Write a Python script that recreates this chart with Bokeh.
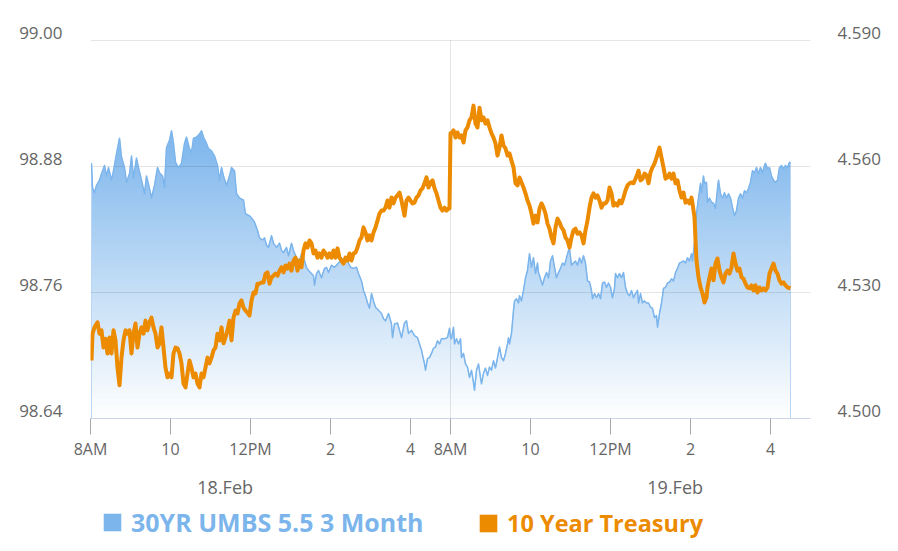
import numpy as np
from bokeh.plotting import figure
from bokeh.layouts import column
from bokeh.models import (Range1d, LinearAxis, FixedTicker, NumeralTickFormatter,
                          Legend, LegendItem)
from bokeh.embed import file_html
from bokeh.resources import INLINE

# ---------------- data ----------------
# time = minutes after 8:00 AM on 18.Feb along the session axis (overnight gap removed;
# 540 = 8:00 AM on 19.Feb)
umbs_points = [
    (1.5, 98.883), (3, 98.860), (6, 98.855), (9, 98.862), (13.5, 98.867), (16.5, 98.873), (21, 98.881),
    (24, 98.871), (27, 98.879), (31.5, 98.867), (34.5, 98.876), (39, 98.892), (43.5, 98.907), (46.5, 98.889),
    (51, 98.879), (54, 98.865), (58.5, 98.873), (61.5, 98.890), (64.5, 98.869), (69, 98.888), (72, 98.879),
    (76.5, 98.867), (81, 98.854), (84, 98.871), (88.5, 98.859), (91.5, 98.850), (96, 98.862), (100.5, 98.879),
    (103.5, 98.874), (108, 98.871), (111, 98.860), (114, 98.898), (118.5, 98.905), (121.5, 98.914),
    (124.5, 98.902), (127.5, 98.884), (132, 98.879), (136.5, 98.883), (141, 98.902), (144, 98.908),
    (148.5, 98.897), (151.5, 98.893), (154.5, 98.907), (159, 98.908), (163.5, 98.911), (166.5, 98.914),
    (169.5, 98.908), (174, 98.902), (177, 98.897), (181.5, 98.895), (186, 98.890), (190.5, 98.881),
    (193.5, 98.867), (196.5, 98.879), (199.5, 98.871), (204, 98.862), (208.5, 98.871), (211.5, 98.879),
    (216, 98.876), (219, 98.854), (223.5, 98.850), (229.5, 98.848), (232.5, 98.835), (238.5, 98.833),
    (241.5, 98.831), (246, 98.827), (250.5, 98.819), (253.5, 98.812), (258, 98.810), (261, 98.812),
    (264, 98.805), (267, 98.803), (271.5, 98.814), (274.5, 98.807), (279, 98.803), (283.5, 98.807),
    (286.5, 98.800), (289.5, 98.798), (294, 98.803), (297, 98.795), (301.5, 98.807), (304.5, 98.800),
    (309, 98.793), (313.5, 98.790), (316.5, 98.797), (319.5, 98.793), (324, 98.784), (327, 98.781),
    (331.5, 98.778), (334.5, 98.776), (336, 98.767), (339, 98.778), (342, 98.781), (346.5, 98.774),
    (351, 98.783), (354, 98.784), (357, 98.779), (361.5, 98.786), (366, 98.784), (369, 98.786),
    (373.5, 98.789), (376.5, 98.793), (379.5, 98.790), (384, 98.793), (387, 98.788), (390, 98.784),
    (394.5, 98.783), (399, 98.784), (402, 98.778), (406.5, 98.771), (409.5, 98.762), (412.5, 98.757),
    (415.5, 98.750), (418.5, 98.745), (421.5, 98.759), (424.5, 98.752), (427.5, 98.746), (432, 98.743),
    (436.5, 98.740), (439.5, 98.735), (442.5, 98.733), (447, 98.740), (451.5, 98.730), (453, 98.717),
    (456, 98.730), (460.5, 98.731), (463.5, 98.724), (466.5, 98.717), (471, 98.731), (474, 98.733),
    (477, 98.721), (481.5, 98.724), (486, 98.719), (490.5, 98.717), (493.5, 98.711), (496.5, 98.705),
    (501, 98.692), (502.5, 98.686), (505.5, 98.697), (508.5, 98.698), (511.5, 98.702), (514.5, 98.707),
    (517.5, 98.708), (520.5, 98.714), (523.5, 98.711), (526.5, 98.716), (531, 98.716), (535.5, 98.717),
    (538.5, 98.726), (540, 98.717), (541.5, 98.716), (544.5, 98.727), (546, 98.711), (549, 98.716),
    (552, 98.711), (555, 98.716), (556.5, 98.698), (559.5, 98.702), (562.5, 98.692), (565.5, 98.689),
    (568.5, 98.679), (571.5, 98.686), (574.5, 98.674), (576, 98.667), (579, 98.686), (582, 98.692),
    (585, 98.679), (586.5, 98.673), (589.5, 98.683), (592.5, 98.688), (595.5, 98.681), (598.5, 98.689),
    (601.5, 98.686), (604.5, 98.695), (607.5, 98.688), (610.5, 98.698), (613.5, 98.708), (616.5, 98.698),
    (619.5, 98.695), (622.5, 98.702), (625.5, 98.711), (627, 98.717), (628.5, 98.711), (631.5, 98.721),
    (634.5, 98.743), (636, 98.752), (639, 98.754), (642, 98.750), (643.5, 98.757), (646.5, 98.752),
    (649.5, 98.762), (652.5, 98.774), (655.5, 98.781), (658.5, 98.797), (661.5, 98.784), (664.5, 98.793),
    (667.5, 98.778), (670.5, 98.788), (672, 98.779), (675, 98.773), (678, 98.767), (681, 98.774),
    (684, 98.779), (687, 98.774), (690, 98.790), (693, 98.795), (696, 98.784), (699, 98.774), (702, 98.779),
    (705, 98.783), (708, 98.788), (711, 98.786), (714, 98.793), (717, 98.800), (718.5, 98.802),
    (721.5, 98.786), (724.5, 98.788), (727.5, 98.790), (730.5, 98.786), (733.5, 98.793), (736.5, 98.788),
    (739.5, 98.795), (742.5, 98.788), (745.5, 98.771), (748.5, 98.770), (751.5, 98.762), (753, 98.754),
    (756, 98.759), (759, 98.755), (762, 98.759), (765, 98.754), (768, 98.769), (771, 98.770), (774, 98.765),
    (777, 98.769), (780, 98.765), (783, 98.755), (786, 98.764), (787.5, 98.778), (790.5, 98.774),
    (793.5, 98.778), (796.5, 98.774), (799.5, 98.779), (802.5, 98.765), (805.5, 98.759), (808.5, 98.757),
    (811.5, 98.762), (814.5, 98.755), (817.5, 98.759), (820.5, 98.762), (822, 98.750), (825, 98.759),
    (828, 98.750), (831, 98.752), (834, 98.750), (837, 98.750), (840, 98.746), (843, 98.745), (846, 98.736),
    (849, 98.738), (850.5, 98.727), (853.5, 98.740), (856.5, 98.750), (859.5, 98.764), (862.5, 98.765),
    (865.5, 98.769), (868.5, 98.770), (871.5, 98.773), (874.5, 98.771), (877.5, 98.779), (880.5, 98.783),
    (883.5, 98.788), (886.5, 98.789), (889.5, 98.790), (892.5, 98.788), (895.5, 98.793), (898.5, 98.790),
    (901.5, 98.797), (903, 98.790), (906, 98.807), (907.5, 98.816), (909, 98.835), (912, 98.850),
    (915, 98.864), (916.5, 98.855), (919.5, 98.871), (921, 98.864), (924, 98.865), (925.5, 98.846),
    (928.5, 98.850), (931.5, 98.846), (934.5, 98.845), (937.5, 98.840), (940.5, 98.859), (942, 98.867),
    (945, 98.854), (948, 98.850), (951, 98.855), (954, 98.850), (957, 98.854), (960, 98.850), (963, 98.841),
    (966, 98.833), (969, 98.838), (972, 98.850), (975, 98.854), (978, 98.850), (981, 98.857), (984, 98.855),
    (987, 98.859), (990, 98.865), (993, 98.876), (996, 98.874), (999, 98.879), (1002, 98.873),
    (1005, 98.879), (1008, 98.874), (1011, 98.881), (1012.5, 98.883), (1015.5, 98.878), (1018.5, 98.879),
    (1021.5, 98.871), (1024.5, 98.867), (1027.5, 98.865), (1030.5, 98.867), (1033.5, 98.879),
    (1036.5, 98.881), (1039.5, 98.878), (1042.5, 98.881), (1045.5, 98.879), (1048.5, 98.884), (1050, 98.883),
]

treasury_points = [
    (1.5, 4.5138), (3, 4.5202), (6, 4.5217), (10.5, 4.5229), (13.5, 4.5202), (16.5, 4.5210), (19.5, 4.5169),
    (22.5, 4.5190), (25.5, 4.5155), (28.5, 4.5193), (31.5, 4.5155), (34.5, 4.5210), (37.5, 4.5186),
    (40.5, 4.5121), (43.5, 4.5079), (46.5, 4.5145), (49.5, 4.5186), (52.5, 4.5210), (55.5, 4.5202),
    (58.5, 4.5210), (61.5, 4.5155), (64.5, 4.5202), (67.5, 4.5226), (70.5, 4.5169), (73.5, 4.5202),
    (76.5, 4.5217), (79.5, 4.5202), (82.5, 4.5233), (85.5, 4.5210), (88.5, 4.5229), (91.5, 4.5240),
    (94.5, 4.5217), (97.5, 4.5202), (100.5, 4.5169), (103.5, 4.5179), (106.5, 4.5217), (109.5, 4.5169),
    (112.5, 4.5121), (115.5, 4.5098), (118.5, 4.5107), (121.5, 4.5098), (124.5, 4.5155), (127.5, 4.5169),
    (130.5, 4.5167), (133.5, 4.5155), (136.5, 4.5131), (139.5, 4.5083), (142.5, 4.5074), (145.5, 4.5107),
    (148.5, 4.5138), (151.5, 4.5121), (154.5, 4.5098), (157.5, 4.5107), (160.5, 4.5083), (163.5, 4.5074),
    (166.5, 4.5107), (169.5, 4.5098), (172.5, 4.5121), (175.5, 4.5145), (178.5, 4.5131), (181.5, 4.5145),
    (184.5, 4.5162), (187.5, 4.5169), (190.5, 4.5202), (193.5, 4.5186), (196.5, 4.5217), (199.5, 4.5179),
    (202.5, 4.5193), (205.5, 4.5210), (208.5, 4.5233), (211.5, 4.5186), (214.5, 4.5240), (217.5, 4.5257),
    (220.5, 4.5250), (223.5, 4.5274), (226.5, 4.5281), (229.5, 4.5264), (232.5, 4.5257), (235.5, 4.5252),
    (238.5, 4.5245), (241.5, 4.5281), (244.5, 4.5300), (247.5, 4.5298), (250.5, 4.5321), (253.5, 4.5321),
    (256.5, 4.5324), (259.5, 4.5324), (262.5, 4.5345), (265.5, 4.5348), (268.5, 4.5321), (271.5, 4.5336),
    (274.5, 4.5340), (277.5, 4.5345), (280.5, 4.5340), (283.5, 4.5352), (286.5, 4.5360), (289.5, 4.5348),
    (292.5, 4.5364), (295.5, 4.5357), (298.5, 4.5369), (301.5, 4.5352), (304.5, 4.5376), (307.5, 4.5383),
    (310.5, 4.5352), (313.5, 4.5376), (316.5, 4.5360), (319.5, 4.5400), (322.5, 4.5417), (325.5, 4.5407),
    (328.5, 4.5424), (331.5, 4.5417), (334.5, 4.5393), (337.5, 4.5400), (340.5, 4.5383), (343.5, 4.5393),
    (346.5, 4.5383), (349.5, 4.5400), (352.5, 4.5393), (355.5, 4.5383), (358.5, 4.5393), (361.5, 4.5383),
    (364.5, 4.5400), (367.5, 4.5383), (370.5, 4.5405), (373.5, 4.5383), (376.5, 4.5376), (379.5, 4.5369),
    (382.5, 4.5383), (385.5, 4.5376), (388.5, 4.5393), (391.5, 4.5376), (394.5, 4.5393), (397.5, 4.5395),
    (400.5, 4.5407), (403.5, 4.5424), (406.5, 4.5431), (409.5, 4.5455), (412.5, 4.5443), (415.5, 4.5424),
    (418.5, 4.5436), (421.5, 4.5424), (424.5, 4.5443), (427.5, 4.5455), (430.5, 4.5471), (433.5, 4.5488),
    (436.5, 4.5495), (439.5, 4.5495), (442.5, 4.5502), (445.5, 4.5519), (448.5, 4.5502), (451.5, 4.5526),
    (454.5, 4.5512), (457.5, 4.5526), (460.5, 4.5531), (463.5, 4.5538), (466.5, 4.5519), (469.5, 4.5495),
    (471, 4.5483), (474, 4.5519), (477, 4.5526), (480, 4.5519), (483, 4.5512), (486, 4.5514), (489, 4.5526),
    (492, 4.5531), (495, 4.5543), (498, 4.5548), (501, 4.5560), (504, 4.5574), (507, 4.5550), (510, 4.5562),
    (513, 4.5567), (516, 4.5548), (519, 4.5536), (522, 4.5519), (525, 4.5502), (528, 4.5495), (531, 4.5502),
    (534, 4.5495), (537, 4.5500), (538.5, 4.5500), (540, 4.5679), (541.5, 4.5679), (544.5, 4.5686),
    (547.5, 4.5669), (550.5, 4.5681), (553.5, 4.5669), (556.5, 4.5674), (559.5, 4.5657), (562.5, 4.5686),
    (565.5, 4.5693), (568.5, 4.5710), (571.5, 4.5717), (574.5, 4.5745), (577.5, 4.5702), (580.5, 4.5693),
    (583.5, 4.5740), (586.5, 4.5710), (589.5, 4.5717), (592.5, 4.5702), (595.5, 4.5710), (598.5, 4.5693),
    (601.5, 4.5679), (604.5, 4.5669), (607.5, 4.5655), (610.5, 4.5626), (613.5, 4.5645), (616.5, 4.5674),
    (619.5, 4.5650), (622.5, 4.5643), (625.5, 4.5626), (628.5, 4.5631), (631.5, 4.5614), (634.5, 4.5598),
    (637.5, 4.5560), (640.5, 4.5555), (643.5, 4.5574), (646.5, 4.5562), (649.5, 4.5550), (652.5, 4.5536),
    (655.5, 4.5519), (658.5, 4.5507), (661.5, 4.5488), (664.5, 4.5464), (667.5, 4.5483), (670.5, 4.5467),
    (673.5, 4.5500), (676.5, 4.5512), (679.5, 4.5502), (682.5, 4.5488), (685.5, 4.5464), (688.5, 4.5452),
    (691.5, 4.5431), (694.5, 4.5417), (697.5, 4.5455), (700.5, 4.5476), (703.5, 4.5467), (706.5, 4.5455),
    (709.5, 4.5448), (712.5, 4.5431), (715.5, 4.5424), (718.5, 4.5407), (721.5, 4.5431), (724.5, 4.5448),
    (727.5, 4.5452), (730.5, 4.5440), (733.5, 4.5443), (736.5, 4.5436), (739.5, 4.5417), (742.5, 4.5448),
    (745.5, 4.5471), (748.5, 4.5502), (751.5, 4.5526), (754.5, 4.5536), (757.5, 4.5526), (760.5, 4.5531),
    (763.5, 4.5519), (766.5, 4.5502), (769.5, 4.5512), (772.5, 4.5512), (775.5, 4.5519), (778.5, 4.5550),
    (781.5, 4.5536), (784.5, 4.5507), (787.5, 4.5512), (790.5, 4.5507), (793.5, 4.5519), (796.5, 4.5512),
    (799.5, 4.5526), (802.5, 4.5543), (805.5, 4.5555), (808.5, 4.5560), (811.5, 4.5562), (814.5, 4.5560),
    (817.5, 4.5571), (820.5, 4.5583), (822, 4.5590), (825, 4.5567), (828, 4.5571), (831, 4.5583),
    (834, 4.5579), (837, 4.5560), (840, 4.5586), (843, 4.5598), (846, 4.5607), (849, 4.5621), (852, 4.5638),
    (853.5, 4.5645), (856.5, 4.5621), (859.5, 4.5598), (862.5, 4.5571), (865.5, 4.5574), (868.5, 4.5583),
    (871.5, 4.5571), (874.5, 4.5583), (877.5, 4.5560), (880.5, 4.5567), (883.5, 4.5543), (886.5, 4.5526),
    (889.5, 4.5538), (892.5, 4.5514), (895.5, 4.5519), (898.5, 4.5512), (901.5, 4.5526), (903, 4.5512),
    (906, 4.5479), (907.5, 4.5424), (909, 4.5376), (912, 4.5336), (915, 4.5312), (918, 4.5298),
    (921, 4.5276), (924, 4.5288), (925.5, 4.5312), (928.5, 4.5336), (931.5, 4.5357), (934.5, 4.5329),
    (937.5, 4.5369), (940.5, 4.5381), (943.5, 4.5352), (946.5, 4.5336), (949.5, 4.5324), (952.5, 4.5345),
    (955.5, 4.5352), (958.5, 4.5345), (961.5, 4.5360), (964.5, 4.5393), (967.5, 4.5369), (970.5, 4.5352),
    (973.5, 4.5357), (976.5, 4.5336), (979.5, 4.5333), (982.5, 4.5321), (985.5, 4.5312), (988.5, 4.5310),
    (991.5, 4.5317), (994.5, 4.5305), (997.5, 4.5317), (1000.5, 4.5300), (1003.5, 4.5312), (1006.5, 4.5305),
    (1009.5, 4.5310), (1012.5, 4.5305), (1015.5, 4.5312), (1018.5, 4.5345), (1021.5, 4.5357),
    (1024.5, 4.5369), (1027.5, 4.5352), (1030.5, 4.5345), (1033.5, 4.5329), (1036.5, 4.5321),
    (1039.5, 4.5324), (1042.5, 4.5317), (1045.5, 4.5312), (1050, 4.5310),
]

x_tick_minutes = [0, 120, 240, 360, 480, 540, 660, 780, 900, 1020]
x_tick_labels = ["8AM", "10", "12PM", "2", "4", "8AM", "10", "12PM", "2", "4"]
session2_start = 540
day_label_minutes = [202, 877]
day_labels = ["18.Feb", "19.Feb"]
left_ticks = [98.64, 98.76, 98.88, 99.00]
right_ticks = [4.500, 4.530, 4.560, 4.590]
series_names = ["30YR UMBS 5.5 3 Month", "10 Year Treasury"]

# ---------------- styling ----------------
BLUE = "#7cb5ec"
ORANGE = "#ec8a00"
LABEL = "#666666"
FONT = "Open Sans"
PX_PER_SPAN = 378          # px between the lowest and highest grid line
HEAD_PX = 10               # free plot-area px above the top grid line
LABEL_LIFT_PX = 8          # y-axis labels sit a little above their grid lines

ut = np.array([q[0] for q in umbs_points], dtype=float)
uv = np.array([q[1] for q in umbs_points], dtype=float)
tt = np.array([q[0] for q in treasury_points], dtype=float)
tv = np.array([q[1] for q in treasury_points], dtype=float)

y_lo, y_hi = left_ticks[0], left_ticks[-1]
r_lo, r_hi = right_ticks[0], right_ticks[-1]
l_px = (y_hi - y_lo) / PX_PER_SPAN
r_px = (r_hi - r_lo) / PX_PER_SPAN

p = figure(width=898, height=505, output_backend="svg", toolbar_location=None,
           x_range=Range1d(0, 1080), y_range=Range1d(y_lo, y_hi + HEAD_PX * l_px),
           y_axis_location=None,
           min_border_left=90, min_border_right=88, min_border_top=30, min_border_bottom=87,
           background_fill_color="white", border_fill_color="white")
p.extra_y_ranges = {
    "tsy": Range1d(r_lo, r_hi + HEAD_PX * r_px),
    "lbl_l": Range1d(y_lo - LABEL_LIFT_PX * l_px, y_hi + (HEAD_PX - LABEL_LIFT_PX) * l_px),
    "lbl_r": Range1d(r_lo - LABEL_LIFT_PX * r_px, r_hi + (HEAD_PX - LABEL_LIFT_PX) * r_px),
}
p.outline_line_color = None

# gradient fill of the area (series colour fading to white), built from horizontal bands
base = np.array([124, 181, 236], dtype=float)
top_val = uv.max()
n_bands = 70
edges = np.linspace(y_lo, top_val, n_bands + 1)
for k in range(n_bands - 1, -1, -1):
    frac = ((edges[k] + edges[k + 1]) / 2 - y_lo) / (top_val - y_lo)
    rgb = base * frac + 255 * (1 - frac)
    col = "#%02x%02x%02x" % tuple(int(round(c)) for c in rgb)
    p.varea(x=ut, y1=np.full_like(uv, y_lo), y2=np.minimum(uv, edges[k + 1]),
            fill_color=col, level="image")

# light outline of the area
p.patch(np.concatenate([[ut[0]], ut, [ut[-1]]]), np.concatenate([[y_lo], uv, [y_lo]]),
        fill_alpha=0, line_color="#b9d6f4", line_width=1, level="image")

# day divider grid line (between the two sessions), spanning the grid only
p.segment(x0=[session2_start], x1=[session2_start], y0=[y_lo], y1=[y_hi],
          line_color="black", line_alpha=0.1, line_width=1, level="underlay")

p.line(ut, uv, line_color=BLUE, line_width=1.5, line_join="round")
p.line(tt, tv, y_range_name="tsy", line_color=ORANGE, line_width=4, line_join="round")

# ---------------- axes ----------------
xa = p.xaxis[0]
xa.ticker = FixedTicker(ticks=x_tick_minutes)
xa.major_label_overrides = {m: s for m, s in zip(x_tick_minutes, x_tick_labels)}
xa.axis_line_color = "#ccd6eb"
xa.major_tick_line_color = "#a8a8a8"
xa.major_tick_out = 16
xa.major_tick_in = 0
xa.minor_tick_line_color = None
xa.major_label_standoff = 3
xa.major_label_text_font = FONT
xa.major_label_text_font_size = "16px"
xa.major_label_text_color = LABEL

day_axis = LinearAxis(ticker=FixedTicker(ticks=day_label_minutes),
                      major_label_overrides={m: s for m, s in zip(day_label_minutes, day_labels)},
                      axis_line_color=None, major_tick_line_color=None, minor_tick_line_color=None,
                      major_tick_out=0, major_tick_in=0,
                      major_label_standoff=12, major_label_text_font=FONT,
                      major_label_text_font_size="18px", major_label_text_color=LABEL)
p.add_layout(day_axis, "below")

la = LinearAxis(y_range_name="lbl_l", ticker=FixedTicker(ticks=left_ticks),
                formatter=NumeralTickFormatter(format="0.00"),
                axis_line_color=None, major_tick_line_color=None, minor_tick_line_color=None,
                major_tick_out=0, major_tick_in=0,
                major_label_standoff=28, major_label_text_font=FONT,
                major_label_text_font_size="17px", major_label_text_color=LABEL)
p.add_layout(la, "left")

ra = LinearAxis(y_range_name="lbl_r", ticker=FixedTicker(ticks=right_ticks),
                formatter=NumeralTickFormatter(format="0.000"),
                axis_line_color=None, major_tick_line_color=None, minor_tick_line_color=None,
                major_tick_out=0, major_tick_in=0,
                major_label_standoff=27, major_label_text_font=FONT,
                major_label_text_font_size="17px", major_label_text_color=LABEL)
p.add_layout(ra, "right")

p.ygrid.ticker = FixedTicker(ticks=left_ticks)
p.ygrid.grid_line_color = "black"
p.ygrid.grid_line_alpha = 0.1
p.xgrid.visible = False


def strip(height, fill):
    f = figure(width=898, height=height, output_backend="svg", toolbar_location=None,
               x_range=Range1d(0, 1), y_range=Range1d(0, 1), x_axis_type=None, y_axis_type=None,
               min_border_left=0, min_border_right=0, min_border_top=0, min_border_bottom=0,
               background_fill_color=fill, border_fill_color=fill)
    f.outline_line_color = None
    f.grid.visible = False
    return f


# ---------------- legend strip (one legend per series, text in series colour) ----------------
lf = strip(39, "white")
# swatch renderers lie outside the strip's visible range; only their legend glyphs show
rb = lf.quad(left=[-3], right=[-2], top=[-2], bottom=[-3], fill_color=BLUE, line_color=None)
ro = lf.quad(left=[-3], right=[-2], top=[-2], bottom=[-3], fill_color=ORANGE, line_color=None)
for r, name, col, size, loc in [(rb, series_names[0], BLUE, "25px", (11, 5)),
                                (ro, series_names[1], ORANGE, "23.5px", (387, 5))]:
    leg = Legend(items=[LegendItem(label=name, renderers=[r])], location=loc,
                 orientation="horizontal", border_line_color=None, background_fill_alpha=0,
                 padding=0, margin=0, spacing=0, glyph_width=22, glyph_height=22,
                 label_standoff=8, label_text_font=FONT, label_text_font_style="bold",
                 label_text_font_size=size, label_text_color=col)
    lf.add_layout(leg)

# thin light rule under the chart, then white margin
rule = strip(1, "#e6e6e6")
pad = strip(6, "white")

layout = column(p, lf, rule, pad, spacing=0)
open("out.html", "w").write(file_html(layout, INLINE))
